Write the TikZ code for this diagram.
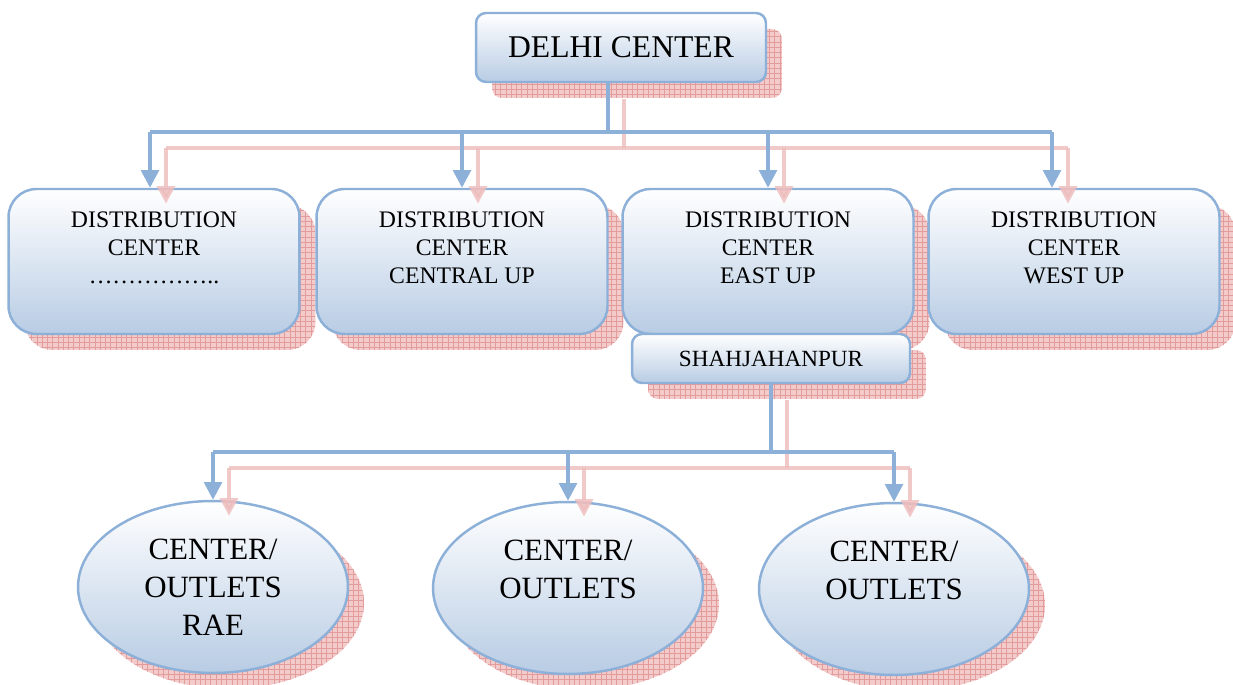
\documentclass[tikz,border=0pt]{standalone}
\usepackage{fontspec}
\setmainfont{Liberation Serif}
\usetikzlibrary{shapes.geometric, shadows, patterns, arrows.meta, calc}
\definecolor{edgeblue}{RGB}{141, 176, 217}
\definecolor{fillblue}{RGB}{184, 204, 228}
\definecolor{shpink}{RGB}{243, 203, 203}
\definecolor{shgrid}{RGB}{226, 156, 156}
\definecolor{shline}{RGB}{238, 188, 188}

\tikzset{
  shbox/.style={general shadow={shadow xshift=0.32cm, shadow yshift=-0.32cm, fill=shpink},
    general shadow={shadow xshift=0.32cm, shadow yshift=-0.32cm, pattern=grid, pattern color=shgrid}},
  unit/.style={shbox, draw=edgeblue, line width=1.4pt, top color=white, bottom color=fillblue,
    align=center, inner sep=0pt},
  head/.style={unit, rounded corners=0.2cm, minimum width=5.8cm, minimum height=1.38cm,
    font=\fontsize{18}{21}\selectfont},
  dcbox/.style={unit, rounded corners=0.56cm, minimum width=5.82cm, minimum height=2.9cm,
    font=\fontsize{13.5}{16}\selectfont},
  citybox/.style={unit, rounded corners=0.2cm, minimum width=5.56cm, minimum height=0.98cm,
    font=\fontsize{13.2}{16}\selectfont},
  outlet/.style={unit, ellipse, minimum width=5.4cm, minimum height=3.44cm,
    font=\fontsize{17.6}{21.5}\selectfont},
  link/.style={draw=edgeblue, line width=2pt},
  shlink/.style={draw=shline, line width=2.4pt, opacity=0.8},
  tip/.style={-{Triangle[width=10pt,length=10pt]}}
}

\begin{document}
\begin{tikzpicture}[x=0.02cm, y=-0.02cm]
  \useasboundingbox (0,0) rectangle (1233,685);

  % head office
  \node [head] (delhi) at (621,47.5) {DELHI CENTER};

  % distribution centers
  \node [dcbox] (dc1) at (154,261.5) {DISTRIBUTION\\CENTER\\……………..\\ \mbox{}};
  \node [dcbox] (dc2) at (462,261.5) {DISTRIBUTION\\CENTER\\CENTRAL UP\\ \mbox{}};
  \node [dcbox] (dc3) at (768,261.5) {DISTRIBUTION\\CENTER\\EAST UP\\ \mbox{}};
  \node [dcbox] (dc4) at (1074,261.5) {DISTRIBUTION\\CENTER\\WEST UP\\ \mbox{}};
  \node [citybox] (shah) at (771,358.5) {SHAHJAHANPUR};

  % outlets
  \node [outlet] (out1) at (213,587) {CENTER/\\OUTLETS\\RAE};
  \node [outlet] (out2) at (568,588) {CENTER/\\OUTLETS\\ \mbox{}};
  \node [outlet] (out3) at (894,589) {CENTER/\\OUTLETS\\ \mbox{}};

  % connectors, shadow copy first
  \coordinate (bus) at (608,132);
  \coordinate (bus2) at (770,452);
  \coordinate (in1) at ([xshift=-0.08cm]dc1.north);
  \coordinate (in4) at ([xshift=-0.44cm]dc4.north);
  \foreach \sty/\o in {shlink/16, link/0} {
    \draw [\sty] ($(bus |- delhi.south)+(\o,\o)$) -- ($(bus)+(\o,\o)$);
    \draw [\sty] ($(bus -| in1)+(\o,\o)$) -- ($(bus -| in4)+(\o,\o)$);
    \foreach \n in {in1, dc2, dc3, in4}
      \draw [\sty, tip] ($(bus -| \n)+(\o,\o)$) -- ($(\n |- dc1.north)+(\o,\o)$);
    \draw [\sty] ($(shah.south)+(\o,\o)$) -- ($(shah.south |- bus2)+(\o,\o)$);
    \draw [\sty] ($(bus2 -| out1.north)+(\o,\o)$) -- ($(bus2 -| out3.north)+(\o,\o)$);
    \foreach \n in {out1, out2, out3}
      \draw [\sty, tip] ($(bus2 -| \n.north)+(\o,\o)$) -- ($(\n.north)+(\o,\o)$);
  }
\end{tikzpicture}
\end{document}
